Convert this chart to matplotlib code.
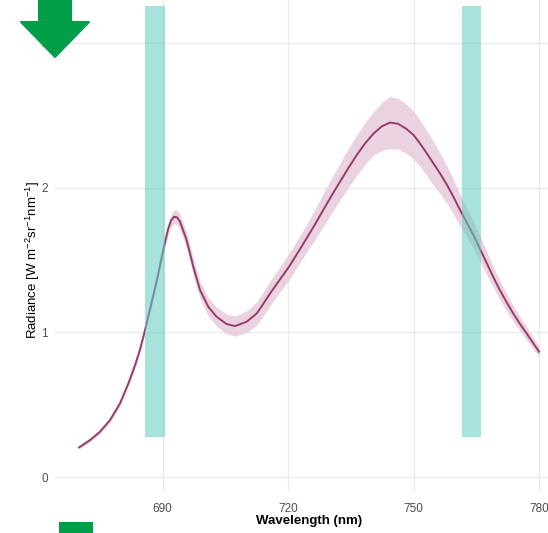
import numpy as np
import matplotlib
matplotlib.use('Agg')
import matplotlib.pyplot as plt
from matplotlib.patches import Polygon, Rectangle

plt.rcParams['font.family'] = ['Liberation Sans', 'DejaVu Sans']
plt.rcParams['mathtext.default'] = 'regular'

# Espectro de radiancia
wavelength = [670.0, 672.6, 675.0, 677.4, 679.8, 681.8, 683.4, 684.6, 685.5, 687.0,
              688.6, 690.1, 691.3, 692.0, 692.7, 693.4, 694.1, 695.7, 697.3, 698.9,
              700.9, 702.9, 705.3, 707.3, 710.1, 712.5, 714.0, 715.7, 717.9, 720.2,
              722.3, 724.4, 726.4, 728.4, 730.4, 732.4, 734.4, 736.4, 738.4, 740.4,
              742.4, 744.3, 746.3, 748.3, 750.0, 751.5, 753.1, 754.7, 756.3, 757.9,
              759.5, 761.1, 762.7, 764.3, 765.9, 767.5, 769.0, 770.6, 772.2, 773.8,
              775.4, 777.0, 778.5, 780.0]
radiance = [0.207, 0.257, 0.315, 0.395, 0.511, 0.649, 0.775, 0.885, 0.985, 1.165,
            1.360, 1.565, 1.715, 1.772, 1.798, 1.795, 1.767, 1.640, 1.455, 1.295,
            1.177, 1.108, 1.058, 1.044, 1.074, 1.132, 1.195, 1.270, 1.360, 1.453,
            1.550, 1.649, 1.745, 1.845, 1.945, 2.040, 2.135, 2.224, 2.305, 2.372,
            2.422, 2.448, 2.440, 2.404, 2.362, 2.305, 2.238, 2.168, 2.098, 2.022,
            1.937, 1.845, 1.758, 1.672, 1.575, 1.477, 1.385, 1.293, 1.210, 1.132,
            1.060, 0.994, 0.930, 0.867]
half_width = [0.012, 0.013, 0.014, 0.015, 0.017, 0.018, 0.020, 0.021, 0.022, 0.025,
              0.028, 0.033, 0.040, 0.044, 0.047, 0.050, 0.052, 0.055, 0.058, 0.060,
              0.063, 0.065, 0.068, 0.070, 0.075, 0.080, 0.083, 0.086, 0.088, 0.092,
              0.093, 0.095, 0.105, 0.115, 0.120, 0.127, 0.133, 0.140, 0.145, 0.150,
              0.165, 0.180, 0.175, 0.170, 0.165, 0.160, 0.155, 0.150, 0.140, 0.130,
              0.120, 0.110, 0.100, 0.095, 0.088, 0.080, 0.072, 0.065, 0.060, 0.055,
              0.050, 0.045, 0.040, 0.035]

# Bandas espectrales
bands_start = [685.7, 761.5]
bands_end = [690.6, 766.0]
band_bottom = 0.276
band_top = 3.253

xticks = [690, 720, 750, 780]
yticks = [0, 1, 2, 3]

wl = np.array(wavelength)
rad = np.array(radiance)
hw = np.array(half_width)

W, H = 548, 533
fig = plt.figure(figsize=(W / 100, H / 100), dpi=100)
ax = fig.add_axes([55 / W, (H - 492) / H, 505 / W, 492 / H])

ax.fill_between(wl, rad - hw, rad + hw, color='#ead2e0', lw=0, zorder=2)
ax.plot(wl, rad, color='#963c6b', lw=1.4, zorder=3, solid_joinstyle='round')

for a, b in zip(bands_start, bands_end):
    ax.add_patch(Rectangle((a, band_bottom), b - a, band_top - band_bottom,
                           facecolor='#5fcdc0', alpha=0.55, lw=0, zorder=4))

ax.set_xlim(664.25, 785.0)
ax.set_ylim(-0.101, 3.294)
ax.set_xticks(xticks)
ax.set_yticks(yticks)
ax.grid(True, color='#ebebeb', lw=1.0, zorder=0)
ax.set_axisbelow(True)
for s in ax.spines.values():
    s.set_visible(False)
ax.tick_params(length=0, labelsize=8.5, labelcolor='#4d4d4d')
ax.tick_params(axis='x', pad=8)
ax.tick_params(axis='y', pad=5)

ax.set_xlabel('Wavelength (nm)', fontsize=9.5, fontweight='bold', color='black')
ax.xaxis.set_label_coords((309 - 55) / 505, -(515 - 492) / 492)
ax.set_ylabel('Radiance [W m$^{-2}$sr$^{-1}$nm$^{-1}$]', fontsize=9.5, color='black')
ax.yaxis.set_label_coords((42 - 55) / 505, (492 - 260) / 492)

# Marcas verdes
green = '#009e49'
arrow = [(39, 0), (71, 0), (71, 22), (89, 22), (55, 57), (21, 22), (39, 22)]
fig.patches.append(Polygon([(x / W, 1 - y / H) for x, y in arrow], closed=True,
                           transform=fig.transFigure, facecolor=green,
                           edgecolor=green, lw=1.5, joinstyle='round', zorder=10))
fig.patches.append(Rectangle((59 / W, 0), 34 / W, 11.5 / H,
                             transform=fig.transFigure, facecolor=green,
                             lw=0, zorder=10))

fig.savefig('out.png', dpi=100)
